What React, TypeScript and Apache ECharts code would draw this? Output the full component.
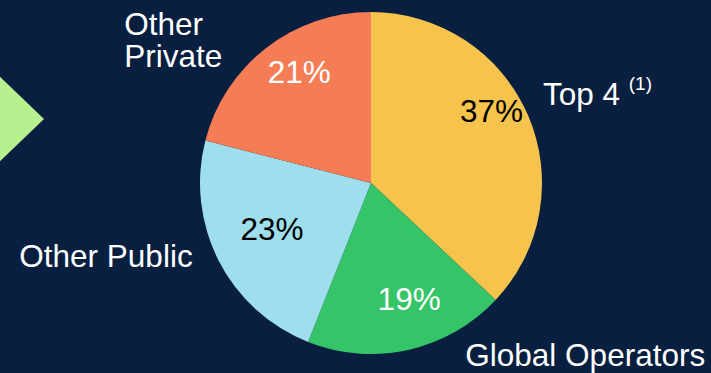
import React, { useEffect, useRef } from "react";
import * as echarts from "echarts";

const categories = ["Top 4", "Global Operators", "Other Public", "Other Private"];
const shares = [37, 19, 23, 21];
const sliceColors = ["#F6C34C", "#35C468", "#9FDEEC", "#F47D56"];
const percentColors = ["#000000", "#FFFFFF", "#000000", "#FFFFFF"];

// label placement tweaks (layout, not data)
const outerOffsets: [number, number][] = [
  [15, -21],
  [57, 5],
  [-26, -5],
  [-44, -8],
];
const innerOffsets: [number, number][] = [
  [-2, -19],
  [9, -14],
  [20, -15],
  [10, -6],
];

const FONT = "'Liberation Sans', Arial, sans-serif";
const BIG = 31.5;

export default function App() {
  const ref = useRef<HTMLDivElement>(null);
  useEffect(() => {
    if (!ref.current) return;
    const chart = echarts.init(ref.current, undefined, { renderer: "svg" });

    const outerData = categories.map((name, i) => {
      let formatter = "{b}";
      let width = 320;
      if (i === 0) formatter = "{t|Top 4 }{s|(1)}";
      if (i === 3) {
        formatter = "{p|Other}\n{p|Private}";
        width = 98;
      }
      return {
        name,
        value: shares[i],
        itemStyle: { color: sliceColors[i] },
        label: { offset: outerOffsets[i], formatter, width },
      };
    });

    const innerData = categories.map((name, i) => ({
      name,
      value: shares[i],
      label: { offset: innerOffsets[i], color: percentColors[i] },
    }));

    chart.setOption({
      animation: false,
      backgroundColor: "#081F40",
      graphic: [
        {
          type: "polygon",
          shape: {
            points: [
              [-30, 48],
              [44, 119],
              [-30, 190],
            ],
          },
          style: { fill: "#B7F08E" },
          z: -1,
        },
      ],
      series: [
        {
          type: "pie",
          center: [371, 183],
          radius: [0, 171],
          startAngle: 90,
          clockwise: true,
          avoidLabelOverlap: false,
          silent: true,
          itemStyle: { borderWidth: 0 },
          label: {
            show: true,
            position: "outside",
            alignTo: "none",
            distanceToLabelLine: 0,
            color: "#FFFFFF",
            fontSize: BIG,
            fontFamily: FONT,
            lineHeight: 32,
            overflow: "none",
            rich: {
              t: { color: "#FFFFFF", fontSize: BIG, fontFamily: FONT, lineHeight: 40 },
              s: {
                color: "#FFFFFF",
                fontSize: 19,
                fontFamily: FONT,
                verticalAlign: "top",
                lineHeight: 20,
              },
              p: {
                color: "#FFFFFF",
                fontSize: BIG,
                fontFamily: FONT,
                lineHeight: 32,
                width: 98,
                align: "left",
              },
            },
          },
          labelLine: { show: false, length: 0, length2: 0 },
          data: outerData,
        },
        {
          type: "pie",
          center: [371, 183],
          radius: [90, 171],
          startAngle: 90,
          clockwise: true,
          avoidLabelOverlap: false,
          silent: true,
          itemStyle: { color: "rgba(0,0,0,0)", borderWidth: 0 },
          label: {
            show: true,
            position: "inside",
            formatter: "{c}%",
            fontSize: BIG,
            fontFamily: FONT,
          },
          labelLine: { show: false },
          data: innerData,
        },
      ],
    });
    return () => chart.dispose();
  }, []);

  return (
    <div
      ref={ref}
      style={{ position: "fixed", left: 0, top: 0, width: 711, height: 373 }}
    />
  );
}
